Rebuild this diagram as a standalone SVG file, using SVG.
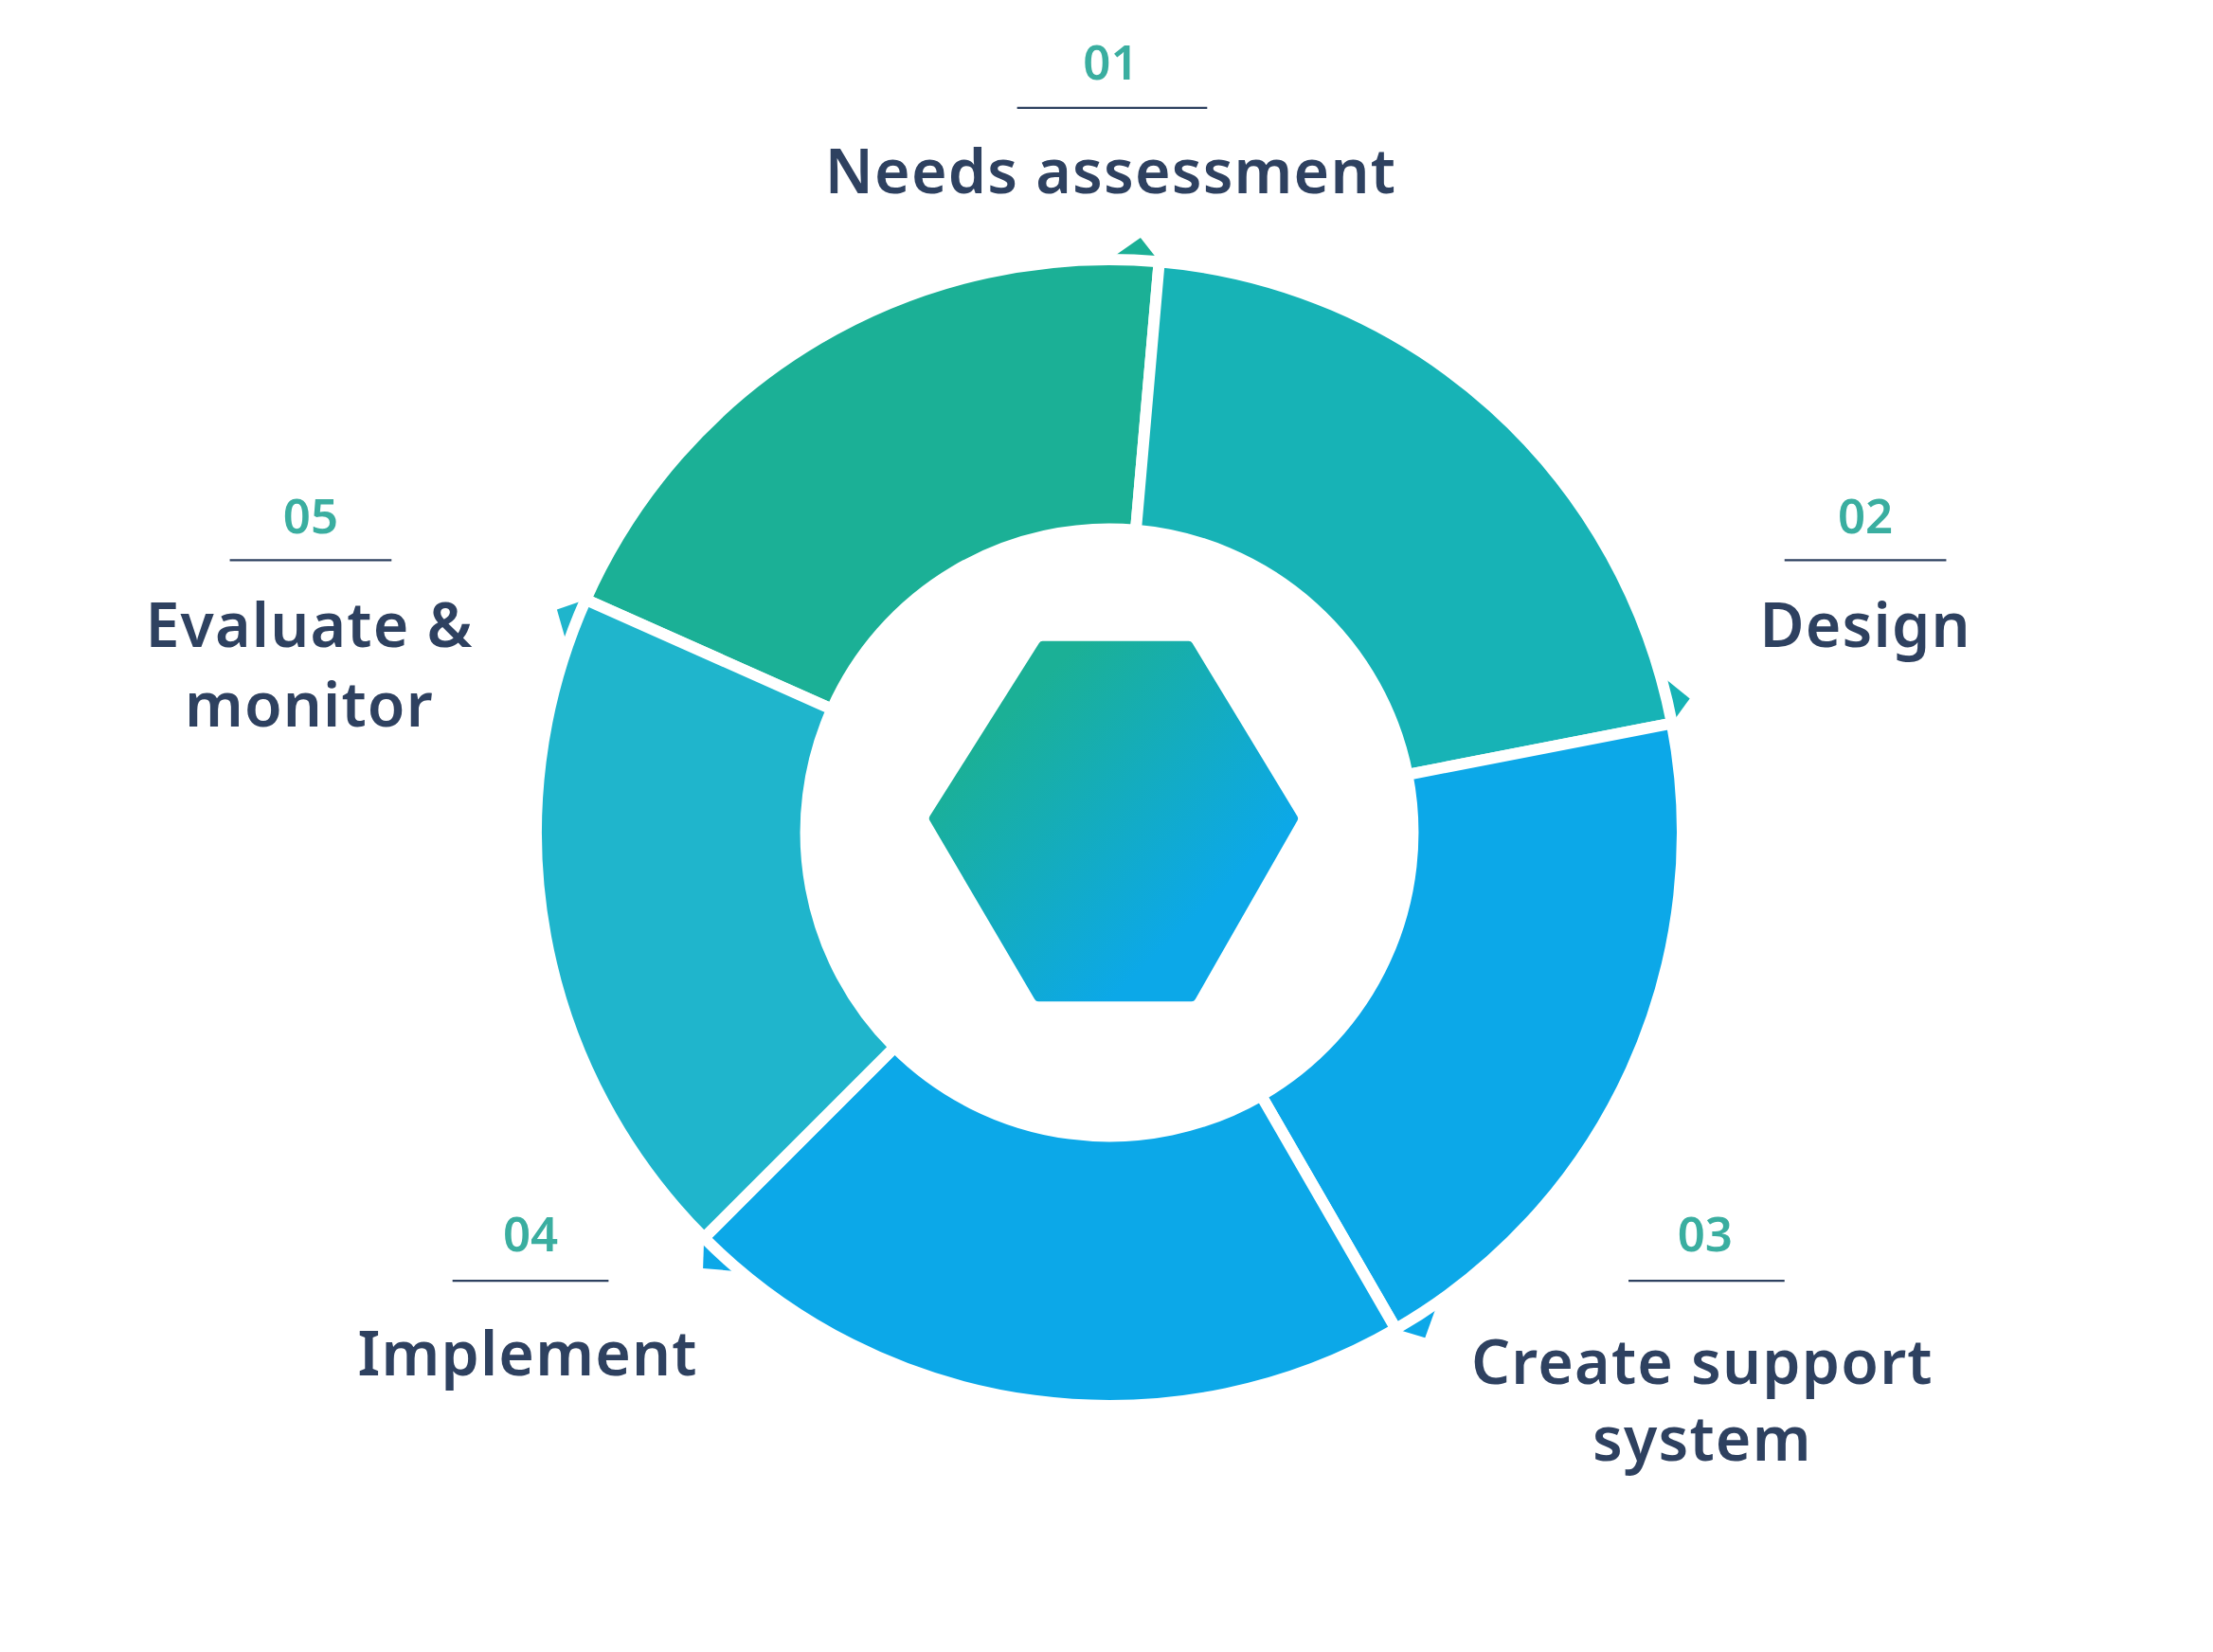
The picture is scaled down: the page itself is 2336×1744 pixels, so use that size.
<svg xmlns="http://www.w3.org/2000/svg" width="2336" height="1744" viewBox="0 0 2336 1744">
<defs>
<linearGradient id="hex" x1="0" y1="0" x2="1" y2="1"><stop offset="0.2" stop-color="#1bb096"/><stop offset="0.75" stop-color="#0ca8e8"/></linearGradient>
<style>
.seg{stroke:#fff;stroke-width:8;stroke-linejoin:round}
.num{font-family:"Noto Sans",sans-serif;font-weight:600;font-size:34px;fill:#3aaea0;text-anchor:middle}
.lbl{font-family:"Noto Sans",sans-serif;font-weight:600;font-size:43px;letter-spacing:0.8px;fill:#2e4160;text-anchor:middle}
.rule{stroke:#2e4160;stroke-width:1.5}
</style>
</defs>
<rect width="2336" height="1744" fill="#fff"/>
<g transform="scale(1.4974)">
<g id="connectors">
<polygon points="817.2,184.5 804,167.6 782,183" fill="#1bb096"/>
<polygon points="1178.6,509.9 1191.2,492.5 1170.4,475.7" fill="#17b3b6"/>
<polygon points="984,936.9 1004.6,943.2 1013.7,918" fill="#0ca8e8"/>
<polygon points="496.3,872.7 495.6,894.2 522.3,896.5" fill="#0ca8e8"/>
<polygon points="412.9,422.7 392.6,429.7 400,455.5" fill="#1fb5cc"/>
</g>
<g id="seg1"><path class="seg" fill="#1bb096" d="M412.9,422.7 A404,404 0 0 1 817.2,184.5 L800.7,373.8 A214,214 0 0 0 586.5,500 Z"/></g>
<g id="seg2"><path class="seg" fill="#17b3b6" d="M817.2,184.5 A404,404 0 0 1 1178.6,509.9 L992.1,546.2 A214,214 0 0 0 800.7,373.8 Z"/></g>
<g id="seg3"><path class="seg" fill="#0ca8e8" d="M1178.6,509.9 A404,404 0 0 1 984,936.9 L889,772.3 A214,214 0 0 0 992.1,546.2 Z"/></g>
<g id="seg4"><path class="seg" fill="#0ca8e8" d="M984,936.9 A404,404 0 0 1 496.3,872.7 L630.7,738.3 A214,214 0 0 0 889,772.3 Z"/></g>
<g id="seg5"><path class="seg" fill="#1fb5cc" d="M496.3,872.7 A404,404 0 0 1 412.9,422.7 L586.5,500 A214,214 0 0 0 630.7,738.3 Z"/></g>
<g id="hexagon"><polygon points="735,455 838,455 912,577 840,703 732,703 658,577" fill="url(#hex)" stroke="url(#hex)" stroke-width="6" stroke-linejoin="round"/></g>
<g id="step1"><text class="num" x="783" y="56">01</text><line class="rule" x1="717" y1="76" x2="851" y2="76"/><text class="lbl" x="783" y="136">Needs assessment</text></g>
<g id="step2"><text class="num" x="1315" y="376">02</text><line class="rule" x1="1258" y1="395" x2="1372" y2="395"/><text class="lbl" x="1315" y="456">Design</text></g>
<g id="step3"><text class="num" x="1202" y="882">03</text><line class="rule" x1="1148" y1="903" x2="1258" y2="903"/><text class="lbl" x="1200" y="976">Create support</text><text class="lbl" x="1200" y="1030">system</text></g>
<g id="step4"><text class="num" x="374" y="882">04</text><line class="rule" x1="319" y1="903" x2="429" y2="903"/><text class="lbl" x="372" y="970">Implement</text></g>
<g id="step5"><text class="num" x="219" y="376">05</text><line class="rule" x1="162" y1="395" x2="276" y2="395"/><text class="lbl" x="218" y="456">Evaluate &amp;</text><text class="lbl" x="218" y="512">monitor</text></g>
</g>
</svg>
